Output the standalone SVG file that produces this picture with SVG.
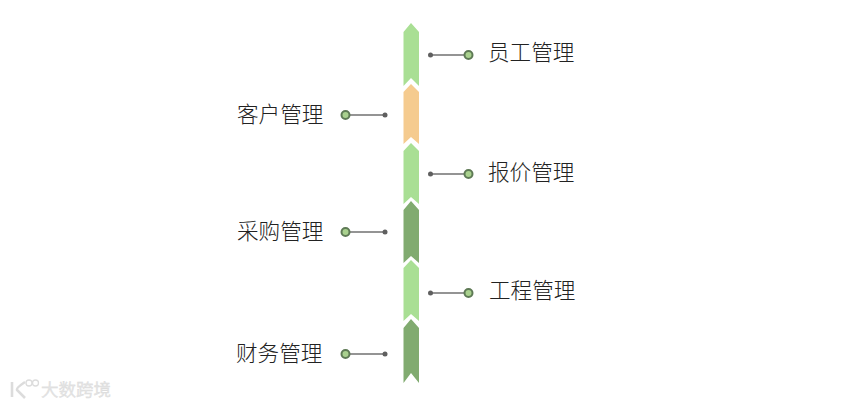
<svg xmlns="http://www.w3.org/2000/svg" width="855" height="406" viewBox="0 0 855 406">
<defs>
<style>
.lbl{font-family:"Noto Sans CJK SC","Noto Sans",sans-serif;font-size:21.6px;font-weight:300;fill:#222}
.ln{stroke:#707070;stroke-width:1.3;fill:none}
.dot{fill:#5f5f5f}
.ring{fill:#a9d18e;stroke:#5e7a55;stroke-width:2}
.lg{fill:#a9df94}.or{fill:#f5cb8f}.dg{fill:#81ab70}
.wm{font-family:"Noto Sans CJK SC",sans-serif;font-size:17.5px;font-weight:400;fill:#e4e4e4;stroke:#d8d8d8;stroke-width:.3}
</style>
</defs>
<rect width="855" height="406" fill="#fff"/>
<g id="spine">
<polygon id="seg1" class="lg" points="411,23 419,32 419,86 411,78 403.500,86 403.500,32"/>
<polygon id="seg2" class="or" points="411,84 419,92 419,144 411,137 403.500,144 403.500,92"/>
<polygon id="seg3" class="lg" points="411,143 419,151 419,204 411,197 403.500,204 403.500,151"/>
<polygon id="seg4" class="dg" points="411,201 419,210 419,263 411,256 403.500,263 403.500,210"/>
<polygon id="seg5" class="lg" points="411,260 419,268 419,321 411,314 403.500,321 403.500,268"/>
<polygon id="seg6" class="dg" points="411,319 419,328 419,383 411,373 403.500,383 403.500,328"/>
</g>
<g id="connectors">
<line class="ln" x1="430" y1="55" x2="468" y2="55"/>
<line class="ln" x1="345" y1="115" x2="385" y2="115"/>
<line class="ln" x1="430" y1="174" x2="468" y2="174"/>
<line class="ln" x1="345" y1="232" x2="385" y2="232"/>
<line class="ln" x1="430" y1="293" x2="468" y2="293"/>
<line class="ln" x1="345" y1="354" x2="385" y2="354"/>
</g>
<g id="n1"><circle class="dot" cx="430.500" cy="55" r="2.500"/><circle class="ring" cx="468.500" cy="55" r="4"/><text class="lbl" x="488" y="60">员工管理</text></g>
<g id="n2"><circle class="dot" cx="385" cy="115" r="2.500"/><circle class="ring" cx="345.500" cy="115" r="4"/><text class="lbl" x="237" y="121.500">客户管理</text></g>
<g id="n3"><circle class="dot" cx="430.500" cy="174" r="2.500"/><circle class="ring" cx="468.500" cy="174" r="4"/><text class="lbl" x="488" y="179.500">报价管理</text></g>
<g id="n4"><circle class="dot" cx="385" cy="232" r="2.500"/><circle class="ring" cx="345.500" cy="232" r="4"/><text class="lbl" x="237" y="238.500">采购管理</text></g>
<g id="n5"><circle class="dot" cx="430.500" cy="293" r="2.500"/><circle class="ring" cx="468.500" cy="293" r="4"/><text class="lbl" x="489" y="297.500">工程管理</text></g>
<g id="n6"><circle class="dot" cx="385" cy="354" r="2.500"/><circle class="ring" cx="345.500" cy="354" r="4"/><text class="lbl" x="236" y="360.500">财务管理</text></g>
<g id="watermark">
<path d="M12 382V397M25 382Q16 388 17 390L25 398" fill="none" stroke="#dcdcdc" stroke-width="2.600"/>
<circle cx="29" cy="383" r="3" fill="none" stroke="#dcdcdc" stroke-width="1.300"/>
<circle cx="35.500" cy="383" r="3" fill="none" stroke="#dcdcdc" stroke-width="1.300"/>
<text class="wm" x="41" y="396">大数跨境</text>
</g>
</svg>
